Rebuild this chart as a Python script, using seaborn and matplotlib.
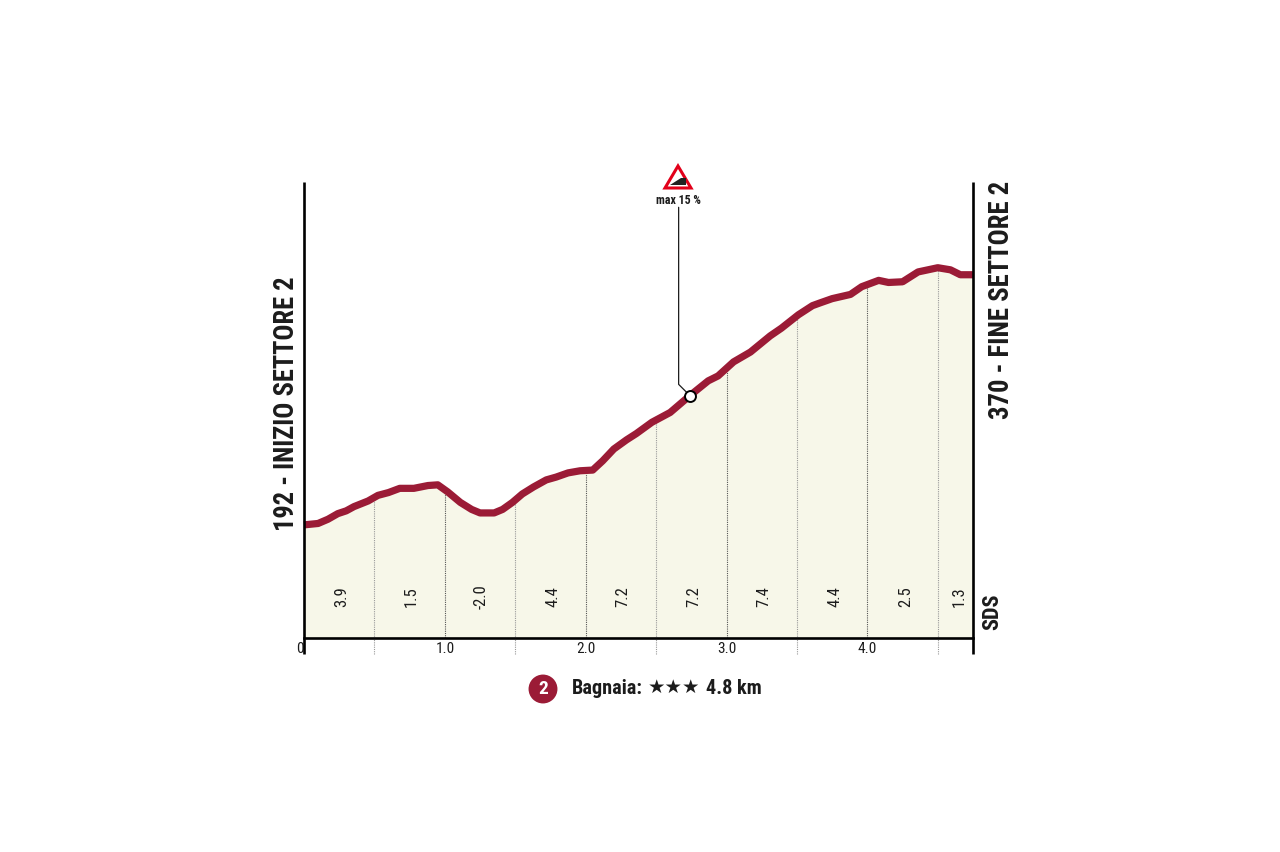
import matplotlib
matplotlib.use('Agg')
import matplotlib.pyplot as plt
from matplotlib.patches import Polygon
import numpy as np
import pandas as pd
import seaborn as sns

km = [0, .10, .17, .24, .30, .355, .455, .525, .60, .68, .78, .88, .95, 1.02, 1.11, 1.19, 1.25, 1.35,
      1.41, 1.48, 1.55, 1.63, 1.72, 1.79, 1.875, 1.96, 2.05, 2.12, 2.20, 2.29, 2.36, 2.47, 2.60, 2.74,
      2.87, 2.94, 3.05, 3.17, 3.31, 3.39, 3.51, 3.61, 3.665, 3.75, 3.88, 3.96, 4.08, 4.15, 4.25, 4.36,
      4.50, 4.59, 4.66, 4.75]
quota = [192, 193, 196, 200, 202, 205, 209, 213, 215, 218, 218, 220, 220.5, 215.5, 208, 203, 200.5, 200.5,
         203, 208, 214, 219, 224, 226, 229, 230.5, 231, 237.5, 246, 252.5, 257, 265, 272, 284,
         294.5, 298, 308, 315, 326.5, 332, 341.5, 348, 350, 353, 356, 361.5, 366, 364.5, 365, 372,
         375, 373.5, 370, 370]

segment_km = [0.5, 1.0, 1.5, 2.0, 2.5, 3.0, 3.5, 4.0, 4.5]
slope_km = [.265, .765, 1.26, 1.765, 2.265, 2.765, 3.265, 3.77, 4.27, 4.65]
slope_labels = ['3.9', '1.5', '-2.0', '4.4', '7.2', '7.2', '7.4', '4.4', '2.5', '1.3']
tick_km = [0, 1, 2, 3, 4]
tick_labels = ['0', '1.0', '2.0', '3.0', '4.0']

leader_km = [2.74, 2.66, 2.66]
leader_m = [284, 292, 418]

RED = '#9b1b36'
FILL = '#f7f7e9'
INK = '#1c1c1c'
COND = ['Roboto Condensed', 'DejaVu Sans']

sns.set_theme(style='white')
plt.rcParams['font.family'] = COND

df = pd.DataFrame({'km': km, 'quota': quota})

fig = plt.figure(figsize=(12.8, 8.52), dpi=100)
ax = fig.add_axes([304 / 1280, 1 - 638 / 852, 669 / 1280, 456 / 852])
xmax, ymin, ymax, below = 4.75, 111.5, 436, 100

ax.fill_between(df['km'], ymin, df['quota'], color=FILL, lw=0, zorder=1)

# tratteggi ogni 500 m: quelli al km intero si fermano sull'asse
tops = np.interp(segment_km, km, quota)
for x, top in zip(segment_km, tops):
    whole = x == int(x)
    ax.plot([x, x], [ymin if whole else below, top], color='#555555' if whole else '#999999',
            lw=0.8, ls=(0, (1, 1)), clip_on=False, zorder=2)

sns.lineplot(data=df, x='km', y='quota', color=RED, lw=5.2, ax=ax, zorder=3,
             solid_capstyle='butt', clip_on=False)

ax.plot(leader_km, leader_m, color=INK, lw=0.9, zorder=4, clip_on=False)
ax.scatter([2.74], [284], s=62, color='white', edgecolor='black', lw=1.4, zorder=5)

for x in [0, xmax]:
    ax.plot([x, x], [below, ymax], color='black', lw=1.9, clip_on=False, zorder=6, solid_capstyle='butt')

ax.set_xlim(0, xmax)
ax.set_ylim(ymin, ymax)
sns.despine(ax=ax, left=True, right=True, top=True)
ax.spines['bottom'].set_linewidth(1.9)
ax.spines['bottom'].set_color('black')
ax.spines['bottom'].set_zorder(6)
ax.set_xlabel('')
ax.set_ylabel('')
ax.set_yticks([])
ax.set_xticks(tick_km, tick_labels)
ax.tick_params(axis='x', length=0, pad=3, labelsize=11, labelcolor=INK)
ax.get_xticklabels()[0].set_ha('right')

for x, s in zip(slope_km, slope_labels):
    ax.text(x, 141, s, rotation=90, ha='center', va='center', fontsize=12, color=INK, zorder=4)

ax.text(-0.125, 187.7, '192 - INIZIO SETTORE 2', rotation=90, ha='center', va='bottom',
        fontsize=19.1, fontweight='bold', color=INK)
ax.text(4.955, 437, '370 - FINE SETTORE 2', rotation=90, ha='center', va='top',
        fontsize=19.3, fontweight='bold', color=INK)
ax.text(4.886, 130, 'SDS', rotation=90, ha='center', va='center', fontsize=16, fontweight='bold', color=INK)

# icona pendenza sopra la linea
ax.text(2.66, 423, 'max 15 %', ha='center', va='center', fontsize=8.6, fontweight='bold', color=INK)
icon_x = np.array([-13, 0, 13]) / 1280
icon_y = np.array([-11, 11, -11]) / 852
cx, cy = 678 / 1280, 1 - 177 / 852
fig.add_artist(Polygon(np.c_[cx + icon_x, cy + icon_y], closed=True, facecolor='white', edgecolor='#e2001a',
                       lw=2.2, joinstyle='miter', transform=fig.transFigure))
wedge_x = np.array([-8, 8, 8, 3]) / 1280
wedge_y = np.array([-8, -8, -1, -1]) / 852
fig.add_artist(Polygon(np.c_[cx + wedge_x, cy + wedge_y], closed=True, facecolor='#222222', edgecolor='none',
                       transform=fig.transFigure))

# legenda in basso
fig.text(543 / 1280, 1 - 689 / 852, '2', ha='center', va='center', fontsize=14, fontweight='bold', color='white',
         bbox=dict(boxstyle='circle,pad=0.28', fc=RED, ec='none'))
fig.text(572 / 1280, 1 - 688 / 852, 'Bagnaia:', ha='left', va='center', fontsize=14.6, fontweight='bold', color=INK)
fig.text(674 / 1280, 1 - 687 / 852, '★★★', ha='center', va='center', fontsize=14, color=INK,
         family=['DejaVu Sans'])
fig.text(706 / 1280, 1 - 688 / 852, '4.8 km', ha='left', va='center', fontsize=14.6, fontweight='bold', color=INK)

fig.savefig('out.png', dpi=100, facecolor='white')
